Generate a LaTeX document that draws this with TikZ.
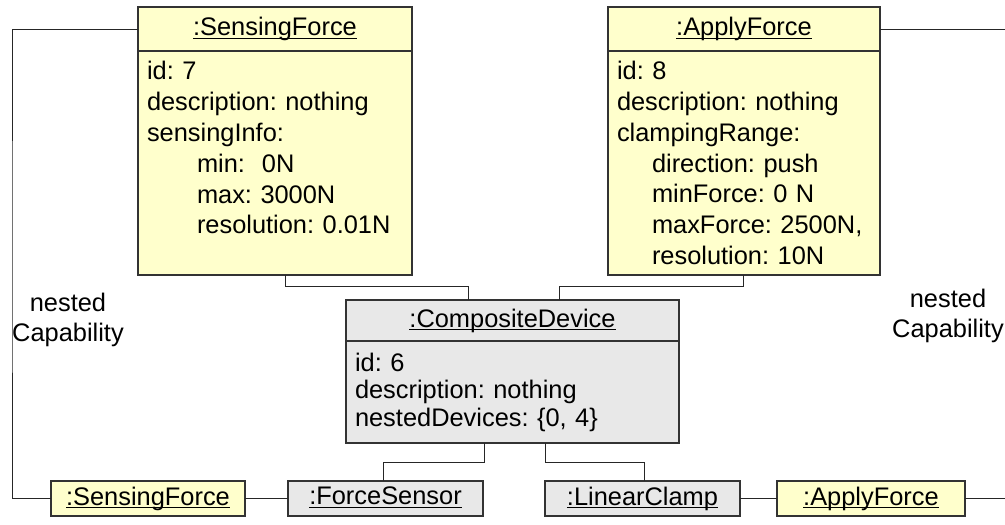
\documentclass[tikz,border=0pt]{standalone}
\usepackage{fontspec}
\setmainfont{Liberation Sans}
\frenchspacing
\usetikzlibrary{positioning,calc}
\definecolor{capfill}{HTML}{FFFFCC}
\definecolor{devfill}{HTML}{E8E8E8}
\definecolor{edge}{HTML}{333333}
\newcommand\objfont{\fontsize{25.4}{30.8}\selectfont}
\newcommand\oname[1]{\setbox0\hbox{#1\vphantom{g}}\rlap{\rule[-3.4pt]{\wd0}{1.2pt}}\box0}
\tikzset{
  objbox/.style={draw=edge, line width=1.3pt, inner sep=0pt, outer sep=0pt,
    font=\objfont, minimum height=35pt},
  capbox/.style={objbox, fill=capfill},
  devbox/.style={objbox, fill=devfill},
  bodybox/.style={align=left, inner xsep=9pt, inner ysep=4pt},
  conn/.style={draw=black!85, line width=1pt},
  lbl/.style={align=center, font=\objfont}
}

\begin{document}
\begin{tikzpicture}[x=1pt, y=-1pt]
  \useasboundingbox (0,0) rectangle (1005,525);
  % capabilities above the device
  \node[capbox, minimum width=274pt, minimum height=44pt] (sfhead) at (275,29) {\oname{:SensingForce}};
  \node[capbox, bodybox, text width=256pt, minimum height=224pt, below=0pt of sfhead] (sfbody)
    {id: 7\\description: nothing\\sensingInfo:\\\hspace*{50pt}min:\ \ 0N\\\hspace*{50pt}max: 3000N\\\hspace*{50pt}resolution: 0.01N\\\mbox{}};
  \node[capbox, minimum width=272pt, minimum height=44pt] (afhead) at (744,29) {\oname{:ApplyForce}};
  \node[capbox, bodybox, text width=254pt, minimum height=224pt, below=0pt of afhead] (afbody)
    {id: 8\\description: nothing\\clampingRange:\\\hspace*{35pt}direction: push\\\hspace*{35pt}minForce: 0 N\\\hspace*{35pt}maxForce: 2500N,\\\hspace*{35pt}resolution: 10N};
  % composite device
  \node[devbox, minimum width=333pt, minimum height=41pt] (cdhead) at (512.5,320.5) {\oname{:CompositeDevice}};
  \node[devbox, bodybox, text width=315pt, minimum height=102pt, below=0pt of cdhead,
    font={\fontsize{25.4}{27.5}\selectfont}] (cdbody)
    {id: 6\\description: nothing\\nestedDevices: \{0, 4\}};
  % bottom row
  \node[capbox, minimum width=194pt] (sfsmall) at (148,498.5) {\oname{:SensingForce}};
  \node[devbox, minimum width=195pt] (fsensor) at (385.5,498.5) {\oname{:ForceSensor}};
  \node[devbox, minimum width=195pt] (lclamp) at (642.5,498.5) {\oname{:LinearClamp}};
  \node[capbox, minimum width=188pt] (afsmall) at (871,498.5) {\oname{:ApplyForce}};
  % labels
  \node[lbl] (leftlbl) at (68,320) {nested\\Capability};
  \node[lbl] (rightlbl) at (948,316) {nested\\Capability};
  \coordinate (leftrail) at (12,250);
  \coordinate (rightrail) at (1012,250);
  % links
  \draw[conn] ([xshift=10pt]sfbody.south) -- ++(0,11) -| ([xshift=-44.5pt]cdhead.north);
  \draw[conn] ([xshift=-1pt]afbody.south) -- ++(0,11) -| ([xshift=46.5pt]cdhead.north);
  \draw[conn] ([xshift=-28.5pt]cdbody.south) -- ++(0,19) -| ([xshift=-2.5pt]fsensor.north);
  \draw[conn] ([xshift=32.5pt]cdbody.south) -- ++(0,19) -| ([xshift=1.5pt]lclamp.north);
  \draw[conn] (sfsmall.east) -- (fsensor.west);
  \draw[conn] (lclamp.east) -- (afsmall.west);
  \draw[conn] (sfhead.west) -| (leftrail) |- (sfsmall.west);
  \draw[conn] (afhead.east) -| (rightrail) |- (afsmall.east);
\end{tikzpicture}
\end{document}
